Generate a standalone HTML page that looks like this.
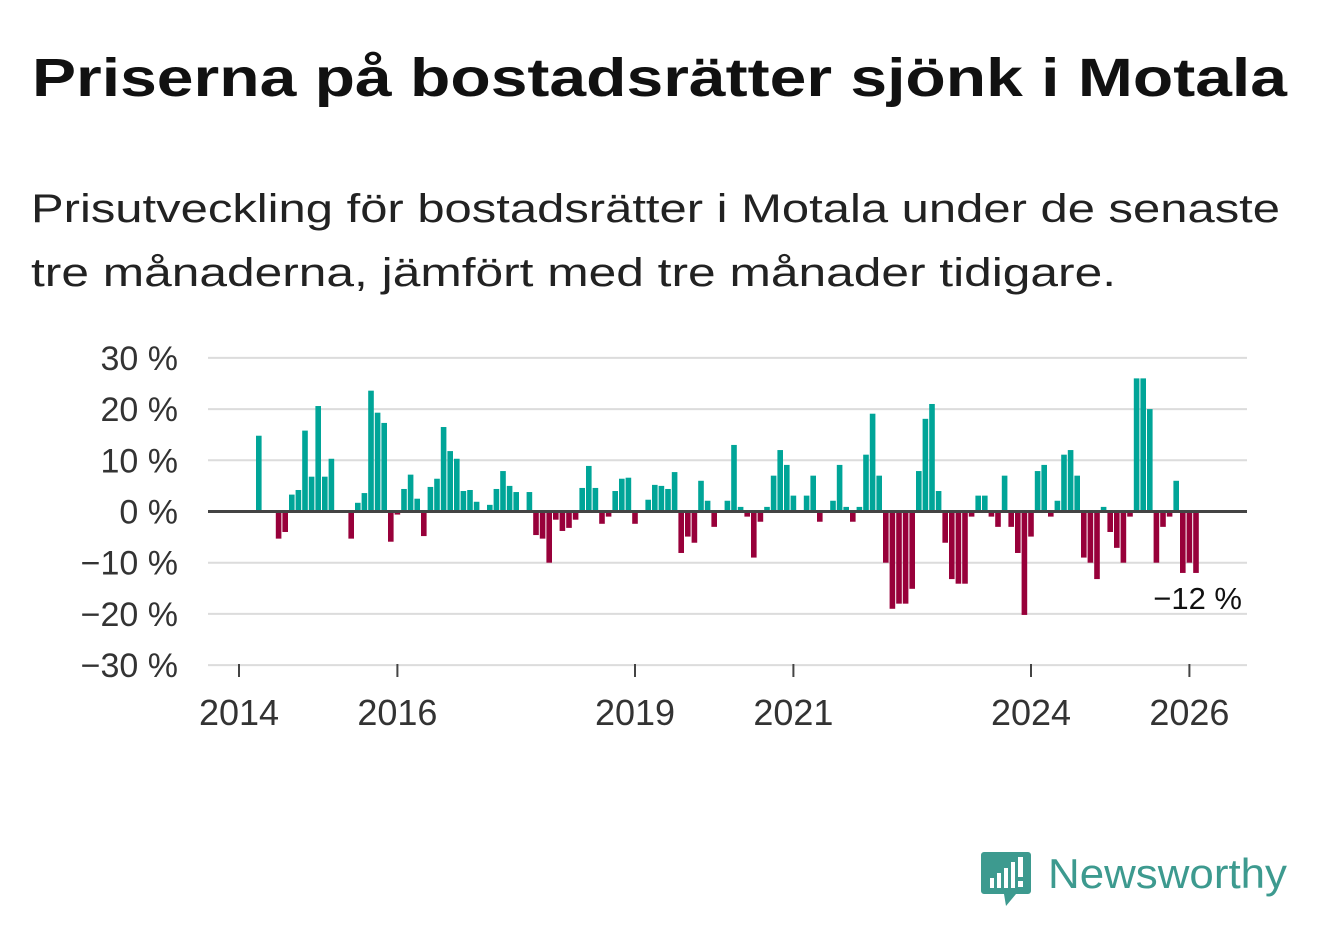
<!DOCTYPE html>
<html><head><meta charset="utf-8"><style>
html,body{margin:0;padding:0;background:#fff;}
svg{display:block;font-family:"Liberation Sans",sans-serif;}
</style></head><body>
<svg id="chart" width="1322" height="939" viewBox="0 0 1322 939">
<text x="32" y="96" font-size="54" font-weight="bold" fill="#111" textLength="1255" lengthAdjust="spacingAndGlyphs">Priserna på bostadsrätter sjönk i Motala</text>
<text x="31" y="222" font-size="40" fill="#222" textLength="1249" lengthAdjust="spacingAndGlyphs">Prisutveckling för bostadsrätter i Motala under de senaste</text>
<text x="31" y="286" font-size="40" fill="#222" textLength="1085" lengthAdjust="spacingAndGlyphs">tre månaderna, jämfört med tre månader tidigare.</text>
<g id="grid"></g><g id="bars"></g><g id="axes"></g>
<g>
<path d="M984 852 h44 a3 3 0 0 1 3 3 v36 a3 3 0 0 1 -3 3 h-12 l-10 12 l-2 -12 h-20 a3 3 0 0 1 -3 -3 v-36 a3 3 0 0 1 3 -3z" fill="#3d9a8f"/>
<rect x="990" y="878" width="4" height="10" fill="#fff"/><rect x="997" y="873" width="4" height="15" fill="#fff"/><rect x="1004" y="868" width="4" height="20" fill="#fff"/><rect x="1011" y="862" width="4" height="26" fill="#fff"/><rect x="1018" y="857" width="5" height="20" fill="#fff"/><rect x="1018" y="881" width="5" height="6" fill="#fff"/>
<text x="1048" y="888" font-size="42" fill="#3d9a8f" textLength="239" lengthAdjust="spacingAndGlyphs">Newsworthy</text>
</g>
</svg>
<script>
const values=[null,null,null,14.8,null,null,-5.3,-4.0,3.3,4.2,15.8,6.8,20.6,6.8,10.3,null,null,-5.3,1.7,3.6,23.6,19.3,17.3,-5.9,-0.6,4.4,7.2,2.5,-4.8,4.8,6.4,16.5,11.8,10.3,4.0,4.2,1.9,null,1.3,4.4,7.9,5.0,3.8,null,3.8,-4.6,-5.3,-10.0,-1.6,-3.8,-3.2,-1.6,4.6,8.9,4.6,-2.4,-1.0,4.0,6.4,6.6,-2.4,null,2.3,5.2,5.0,4.4,7.7,-8.1,-4.9,-6.1,6.0,2.1,-3.0,null,2.1,13.0,0.9,-1.0,-9.0,-2.0,0.9,7.0,12.0,9.1,3.1,null,3.1,7.0,-2.0,null,2.1,9.1,0.9,-2.0,0.9,11.1,19.1,7.0,-10.0,-19.0,-18.0,-18.0,-15.1,7.9,18.1,21.0,4.0,-6.1,-13.2,-14.1,-14.1,-1.0,3.1,3.1,-1.0,-3.0,7.0,-3.0,-8.1,-20.2,-4.9,7.9,9.1,-1.0,2.1,11.1,12.0,7.0,-9.0,-10.0,-13.2,0.9,-4.0,-7.1,-10.0,-1.0,26.0,26.0,20.0,-10.0,-3.0,-1.0,6.0,-12.0,-10.0,-12.0];
const yTicks=[30,20,10,0,-10,-20,-30];
const yTickLabels=["30 %","20 %","10 %","0 %","−10 %","−20 %","−30 %"];
const xTickYears=[2014,2016,2019,2021,2024,2026];
const lastLabel="−12 %";
const NS="http://www.w3.org/2000/svg";
const x0=208,x1=1247;
function yScale(v){return 511.5-v*5.12;}
function xScale(monthIndex){return 239+monthIndex*6.6;}
function mk(tag,attrs,parent){const e=document.createElementNS(NS,tag);for(const k in attrs)e.setAttribute(k,attrs[k]);parent.appendChild(e);return e;}
const grid=document.getElementById('grid'),bars=document.getElementById('bars'),axes=document.getElementById('axes');
yTicks.forEach((t,i)=>{
  if(t!==0){const l=mk('line',{x1:x0,x2:x1,y1:yScale(t),y2:yScale(t),stroke:'#dcdcdc','stroke-width':2},grid);
  
  }
  const tx=mk('text',{x:178,y:yScale(t)+12,'text-anchor':'end','font-size':34,fill:'#333'},axes);
  tx.textContent=yTickLabels[i];
  
  
});
values.forEach((v,i)=>{
  if(v===null)return;
  const y=yScale(Math.max(v,0)),h=Math.abs(yScale(v)-yScale(0));
  const r=mk('rect',{x:xScale(i)-2.8,y:y,width:5.6,height:h,fill:v>=0?'#00a598':'#98003a'},bars);
  
  
});
const zl=mk('line',{x1:x0,x2:x1,y1:yScale(0),y2:yScale(0),stroke:'#444','stroke-width':3},axes);


xTickYears.forEach(yr=>{
  const x=xScale((yr-2014)*12);
  const tk=mk('line',{x1:x,x2:x,y1:664,y2:677,stroke:'#444','stroke-width':2},axes);
  
  
  const tx=mk('text',{x:x,y:725,'text-anchor':'middle','font-size':36,fill:'#333'},axes);
  tx.textContent=String(yr);
  
  
});
const an=mk('text',{x:1242,y:609,'text-anchor':'end','font-size':31,fill:'#111',stroke:'#fff','stroke-width':6,'paint-order':'stroke'},axes);
an.textContent=lastLabel;


</script>
</body></html>
